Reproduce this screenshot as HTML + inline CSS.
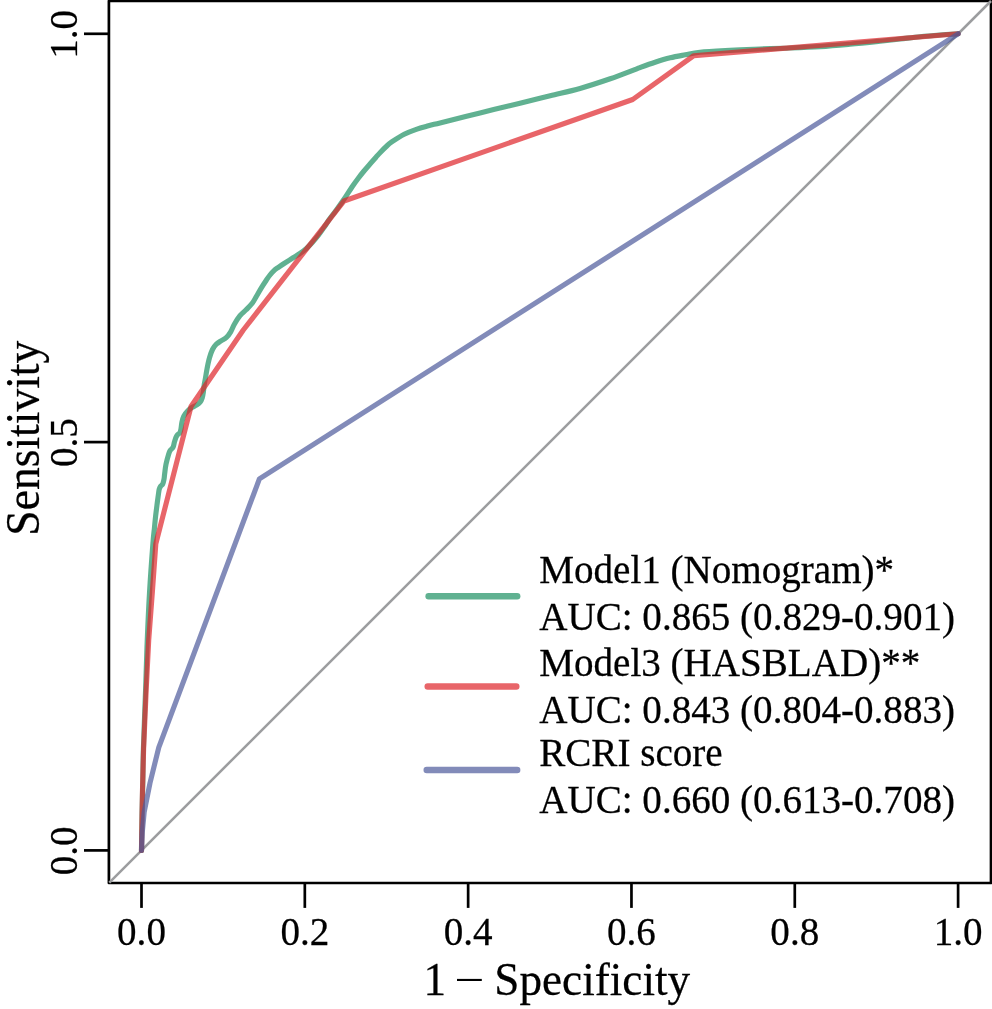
<!DOCTYPE html>
<html><head><meta charset="utf-8"><title>ROC</title>
<style>html,body{margin:0;padding:0;background:#fff;}svg{display:block;will-change:transform;}text{font-family:"Liberation Serif",serif;fill:#000;stroke:#000;stroke-width:0.25px;font-variant-ligatures:none;font-kerning:none;}</style></head>
<body>
<svg width="992" height="1009" viewBox="0 0 992 1009">
<rect x="0" y="0" width="992" height="1009" fill="#fff"/>
<rect x="108.90" y="1.00" width="882.10" height="882.00" fill="none" stroke="#000" stroke-width="2.7" stroke-linejoin="round"/>
<line x1="109.30" y1="882.60" x2="991.00" y2="1.00" stroke="#9c9d9f" stroke-width="2.5" stroke-linecap="butt"/>
<path d="M141.50 850.40 C141.58 844.28 141.78 825.18 142.00 813.70 C142.22 802.22 142.57 792.28 142.80 781.50 C143.03 770.72 142.93 764.33 143.40 749.00 C143.87 733.67 144.95 707.83 145.60 689.50 C146.25 671.17 146.63 655.35 147.30 639.00 C147.97 622.65 148.67 607.27 149.60 591.40 C150.53 575.53 152.10 554.30 152.90 543.80 C153.70 533.30 153.95 532.98 154.40 528.40 C154.85 523.82 155.15 520.33 155.60 516.30 C156.05 512.27 156.60 508.08 157.10 504.20 C157.60 500.32 158.23 495.53 158.60 493.00 C158.97 490.47 158.97 490.12 159.30 489.00 C159.63 487.88 160.02 487.17 160.60 486.30 C161.18 485.43 162.23 484.97 162.80 483.80 C163.37 482.63 163.68 481.03 164.00 479.30 C164.32 477.57 164.37 475.90 164.70 473.40 C165.03 470.90 165.33 467.53 166.00 464.30 C166.67 461.07 168.00 456.32 168.70 454.00 C169.40 451.68 169.48 451.50 170.20 450.40 C170.92 449.30 172.32 448.72 173.00 447.40 C173.68 446.08 173.83 444.12 174.30 442.50 C174.77 440.88 175.28 438.98 175.80 437.70 C176.32 436.42 176.73 435.60 177.40 434.80 C178.07 434.00 179.20 433.90 179.80 432.90 C180.40 431.90 180.65 430.58 181.00 428.80 C181.35 427.02 181.43 424.32 181.90 422.20 C182.37 420.08 182.88 417.92 183.80 416.10 C184.72 414.28 186.10 412.70 187.40 411.30 C188.70 409.90 190.08 408.72 191.60 407.70 C193.12 406.68 195.08 406.12 196.50 405.20 C197.92 404.28 199.15 403.40 200.10 402.20 C201.05 401.00 201.65 399.72 202.20 398.00 C202.75 396.28 203.05 394.22 203.40 391.90 C203.75 389.58 203.97 386.33 204.30 384.10 C204.63 381.87 204.93 381.12 205.40 378.50 C205.87 375.88 206.42 371.85 207.10 368.40 C207.78 364.95 208.60 360.95 209.50 357.80 C210.40 354.65 211.38 351.75 212.50 349.50 C213.62 347.25 214.78 345.75 216.20 344.30 C217.62 342.85 219.33 341.90 221.00 340.80 C222.67 339.70 224.58 339.20 226.20 337.70 C227.82 336.20 229.32 334.08 230.70 331.80 C232.08 329.52 232.95 326.68 234.50 324.00 C236.05 321.32 238.07 318.07 240.00 315.70 C241.93 313.33 244.03 311.92 246.10 309.80 C248.17 307.68 250.65 305.30 252.40 303.00 C254.15 300.70 255.08 298.57 256.60 296.00 C258.12 293.43 259.88 290.23 261.50 287.60 C263.12 284.97 264.88 282.30 266.30 280.20 C267.72 278.10 268.72 276.60 270.00 275.00 C271.28 273.40 272.60 271.88 274.00 270.60 C275.40 269.32 276.72 268.48 278.40 267.30 C280.08 266.12 281.65 265.08 284.10 263.50 C286.55 261.92 290.38 259.53 293.10 257.80 C295.82 256.07 298.17 254.68 300.40 253.10 C302.63 251.52 304.48 250.12 306.50 248.30 C308.52 246.48 310.48 244.42 312.50 242.20 C314.52 239.98 316.58 237.62 318.60 235.00 C320.62 232.38 322.80 229.13 324.60 226.50 C326.40 223.87 327.47 221.92 329.40 219.20 C331.33 216.48 333.57 213.81 336.20 210.19 C338.83 206.56 342.57 201.31 345.20 197.45 C347.83 193.59 349.85 190.16 352.00 187.00 C354.15 183.84 356.10 181.17 358.10 178.50 C360.10 175.83 361.98 173.45 364.00 171.00 C366.02 168.55 368.20 166.10 370.20 163.80 C372.20 161.50 374.37 159.05 376.00 157.20 C377.63 155.35 378.33 154.45 380.00 152.70 C381.67 150.95 383.98 148.55 386.00 146.72 C388.02 144.89 389.07 143.82 392.10 141.74 C395.13 139.67 400.17 136.34 404.20 134.27 C408.23 132.20 412.27 130.73 416.30 129.33 C420.33 127.92 424.45 126.91 428.40 125.84 C432.35 124.77 431.40 125.05 440.00 122.90 C448.60 120.75 466.67 116.24 480.00 112.96 C493.33 109.67 508.30 106.08 520.00 103.20 C531.70 100.32 540.20 98.17 550.20 95.70 C560.20 93.23 570.00 91.22 580.00 88.40 C590.00 85.58 600.20 82.23 610.20 78.76 C620.20 75.28 632.52 70.31 640.00 67.55 C647.48 64.79 650.07 63.83 655.10 62.20 C660.13 60.58 665.15 59.03 670.20 57.80 C675.25 56.57 680.43 55.72 685.40 54.80 C690.37 53.88 692.57 53.03 700.00 52.30 C707.43 51.57 720.00 50.95 730.00 50.40 C740.00 49.85 751.00 49.37 760.00 49.00 C769.00 48.63 774.00 48.60 784.00 48.20 C794.00 47.80 809.00 47.27 820.00 46.60 C831.00 45.93 840.00 45.10 850.00 44.20 C860.00 43.30 871.67 42.07 880.00 41.20 C888.33 40.33 893.33 39.75 900.00 39.00 C906.67 38.25 913.33 37.37 920.00 36.70 C926.67 36.03 933.65 35.48 940.00 35.00 C946.35 34.52 955.08 34.00 958.10 33.80" fill="none" stroke="rgb(29,144,99)" stroke-opacity="0.70" stroke-width="5.15" stroke-linecap="round" stroke-linejoin="round"/>
<path d="M141.50 850.40 L142.50 790.00 L143.60 749.00 L146.20 689.50 L148.70 640.00 L152.40 591.40 L155.80 543.80 L191.00 406.50 L243.30 330.00 L344.00 201.00 L632.70 99.50 L693.80 55.70 L958.10 33.80" fill="none" stroke="rgb(222,35,42)" stroke-opacity="0.70" stroke-width="5.15" stroke-linecap="round" stroke-linejoin="round"/>
<path d="M141.50 850.40 L142.30 832.00 L144.20 812.00 L150.00 783.00 L158.80 747.30 L259.40 478.90 L958.10 33.80" fill="none" stroke="rgb(77,90,155)" stroke-opacity="0.70" stroke-width="5.15" stroke-linecap="round" stroke-linejoin="round"/>
<line x1="141.50" y1="883.00" x2="141.50" y2="907.90" stroke="#000" stroke-width="2.70" stroke-linecap="butt"/>
<text transform="translate(141.50 945.00) scale(1 1.0500)" font-size="39.1" text-anchor="middle">0.0</text>
<line x1="304.82" y1="883.00" x2="304.82" y2="907.90" stroke="#000" stroke-width="2.70" stroke-linecap="butt"/>
<text transform="translate(304.82 945.00) scale(1 1.0500)" font-size="39.1" text-anchor="middle">0.2</text>
<line x1="468.14" y1="883.00" x2="468.14" y2="907.90" stroke="#000" stroke-width="2.70" stroke-linecap="butt"/>
<text transform="translate(468.14 945.00) scale(1 1.0500)" font-size="39.1" text-anchor="middle">0.4</text>
<line x1="631.46" y1="883.00" x2="631.46" y2="907.90" stroke="#000" stroke-width="2.70" stroke-linecap="butt"/>
<text transform="translate(631.46 945.00) scale(1 1.0500)" font-size="39.1" text-anchor="middle">0.6</text>
<line x1="794.78" y1="883.00" x2="794.78" y2="907.90" stroke="#000" stroke-width="2.70" stroke-linecap="butt"/>
<text transform="translate(794.78 945.00) scale(1 1.0500)" font-size="39.1" text-anchor="middle">0.8</text>
<line x1="958.10" y1="883.00" x2="958.10" y2="907.90" stroke="#000" stroke-width="2.70" stroke-linecap="butt"/>
<text transform="translate(958.10 945.00) scale(1 1.0500)" font-size="39.1" text-anchor="middle">1.0</text>
<line x1="108.90" y1="850.40" x2="84.00" y2="850.40" stroke="#000" stroke-width="2.70" stroke-linecap="butt"/>
<text transform="translate(77.40 850.90) rotate(-90) scale(1 1.0400)" font-size="39.1" text-anchor="middle">0.0</text>
<line x1="108.90" y1="442.10" x2="84.00" y2="442.10" stroke="#000" stroke-width="2.70" stroke-linecap="butt"/>
<text transform="translate(77.40 442.60) rotate(-90) scale(1 1.0400)" font-size="39.1" text-anchor="middle">0.5</text>
<line x1="108.90" y1="33.80" x2="84.00" y2="33.80" stroke="#000" stroke-width="2.70" stroke-linecap="butt"/>
<text transform="translate(77.40 34.30) rotate(-90) scale(1 1.0400)" font-size="39.1" text-anchor="middle">1.0</text>
<text transform="translate(423.60 994.70) scale(1 1.0400)" font-size="45.2" text-anchor="start">1</text>
<rect x="457.0" y="978.9" width="24.8" height="2.1" fill="#000"/>
<text transform="translate(494.30 994.70) scale(1 1.0400)" font-size="45.2" text-anchor="start">Specificity</text>
<text transform="translate(39.30 438.20) rotate(-90) scale(1 1.0600)" font-size="45.6" text-anchor="middle">Sensitivity</text>
<line x1="428.60" y1="596.20" x2="517.20" y2="596.20" stroke="rgb(29,144,99)" stroke-opacity="0.70" stroke-width="6.4" stroke-linecap="round"/>
<text transform="translate(539.20 583.00) scale(1 1.0400)" font-size="39.1" text-anchor="start">Model1 (Nomogram)*</text>
<text transform="translate(539.20 629.50) scale(1 1.0400)" font-size="39.1" text-anchor="start">AUC: 0.865 (0.829-0.901)</text>
<line x1="427.70" y1="686.50" x2="516.30" y2="686.50" stroke="rgb(222,35,42)" stroke-opacity="0.70" stroke-width="6.4" stroke-linecap="round"/>
<text transform="translate(539.20 676.30) scale(1 1.0400)" font-size="39.1" text-anchor="start">Model3 (HASBLAD)**</text>
<text transform="translate(539.20 722.90) scale(1 1.0400)" font-size="39.1" text-anchor="start">AUC: 0.843 (0.804-0.883)</text>
<line x1="426.70" y1="770.00" x2="517.20" y2="770.00" stroke="rgb(77,90,155)" stroke-opacity="0.70" stroke-width="6.4" stroke-linecap="round"/>
<text transform="translate(539.20 766.00) scale(1 1.0400)" font-size="39.1" text-anchor="start">RCRI score</text>
<text transform="translate(539.20 812.70) scale(1 1.0400)" font-size="39.1" text-anchor="start">AUC: 0.660 (0.613-0.708)</text>
</svg>
</body></html>
